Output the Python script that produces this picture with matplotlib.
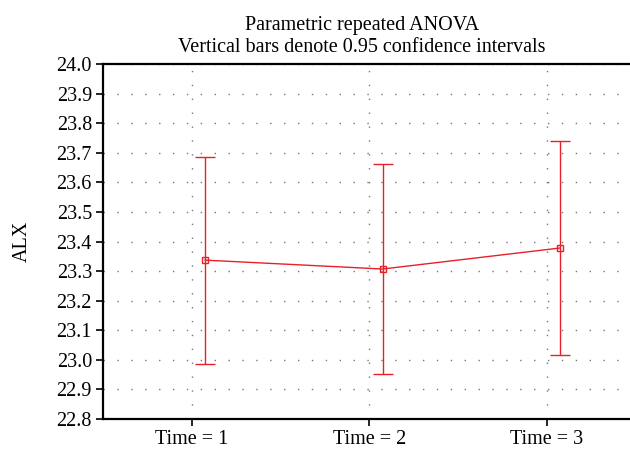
import numpy as np
import matplotlib
matplotlib.use('Agg')
import matplotlib.pyplot as plt

labels = ['Time = 1', 'Time = 2', 'Time = 3']
means = [23.337, 23.307, 23.378]
lower = [22.987, 22.951, 23.017]
upper = [23.686, 23.662, 23.740]

plt.rcParams['font.family'] = 'Liberation Serif'

fig = plt.figure(figsize = (6.3, 4.51), dpi = 100)
ax = fig.add_axes([103 / 630, 1 - 419 / 451, 532.5 / 630, 355 / 451])

x = np.arange(1, 4) + 0.075
means = np.array(means)
err = [means - np.array(lower), np.array(upper) - means]
ax.errorbar(x, means, yerr = err, color = '#e8202a', lw = 1, capsize = 7,
            marker = 's', ms = 5, mfc = 'none', mec = '#e8202a', mew = 1)

ax.set_xlim(0.5, 3.5)
ax.set_ylim(22.8, 24.0)
ax.set_xticks([1, 2, 3])
ax.set_xticklabels(labels)
ax.set_yticks(np.arange(22.8, 24.01, 0.1))
ax.set_yticklabels(['%.1f' % v for v in np.arange(22.8, 24.01, 0.1)])
ax.tick_params(labelsize = 14.5, direction = 'out', length = 5, width = 1.2, pad = 3)
ax.grid(True, color = '#777777', linestyle = (0, (1, 9)), linewidth = 1)
ax.spines['right'].set_visible(False)
for s in ['left', 'bottom', 'top']:
    ax.spines[s].set_linewidth(1.6)
ax.set_ylabel('ALX', fontsize = 14.5, labelpad = 18)
ax.set_title('Parametric repeated ANOVA\nVertical bars denote 0.95 confidence intervals',
             fontsize = 14.5, linespacing = 1.15, pad = 9, x = (362 - 103) / 532.5)

plt.savefig('out.png', dpi = 100)
